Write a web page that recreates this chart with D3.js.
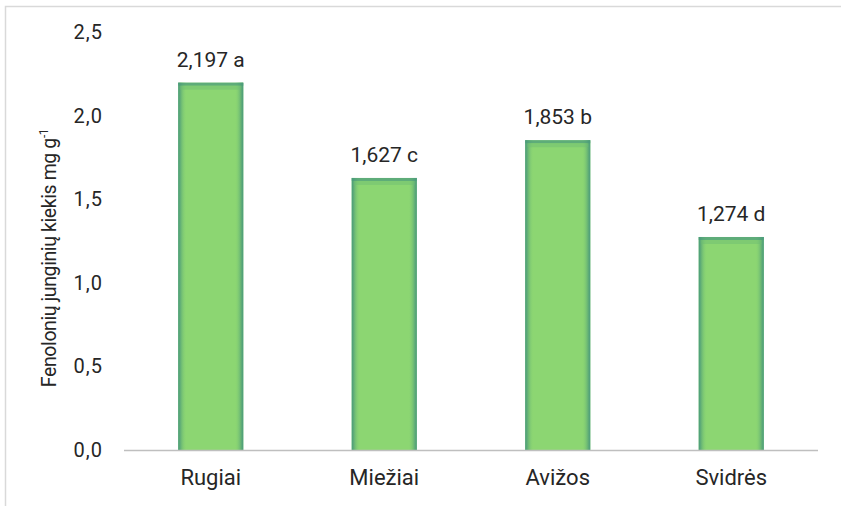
<!DOCTYPE html>
<html><head><meta charset="utf-8">
<script src="https://cdn.jsdelivr.net/npm/d3@7"></script>
<style>body{margin:0;background:#fff}svg{display:block}text{font-family:Roboto,"Open Sans",sans-serif;fill:#262626}</style>
</head><body>
<svg id="c" width="841" height="506"></svg>
<script>
const categories = ["Rugiai","Miežiai","Avižos","Svidrės"];
const values = [2.197,1.627,1.853,1.274];
const letters = ["a","c","b","d"];
const yTicks = [0,0.5,1.0,1.5,2.0,2.5];
const fmt = v => d3.format(".1f")(v).replace(".", ",");
const fmt3 = v => d3.format(".3f")(v).replace(".", ",");

const svg = d3.select("#c");
const defs = svg.append("defs");
const gh = defs.append("linearGradient").attr("id","gh").attr("x1","0").attr("x2","1").attr("y1","0").attr("y2","0");
[[0,"#4a9a7c",1],[0.03,"#5aa877",0.9],[0.13,"#8cd672",0],[0.87,"#8cd672",0],[0.97,"#5aa877",0.9],[1,"#4a9a7c",1]]
  .forEach(([o,c,a])=>gh.append("stop").attr("offset",o).attr("stop-color",c).attr("stop-opacity",a));

// border
svg.append("path").attr("d","M5.5,506 V6.5 H841").attr("fill","none").attr("stroke","#d9d9d9").attr("stroke-width",1.5);

const x = d3.scaleBand().domain(categories).range([124,818]).paddingInner(0.625).paddingOuter(0.3125);
const y = d3.scaleLinear().domain([0,2.5]).range([450,32]);

// y tick labels
const yAxis = d3.axisLeft(y).tickValues(yTicks).tickFormat(fmt).tickSize(0).tickPadding(0);
const ga = svg.append("g").attr("transform","translate(103,0)").call(yAxis);
ga.select(".domain").remove();
ga.selectAll("text").attr("font-size",20).attr("letter-spacing",1).attr("fill","#262626").attr("font-family","Roboto");

// bars
const bars = svg.append("g").selectAll("g").data(categories).join("g");
bars.append("rect").attr("x",d=>x(d)).attr("y",(d,i)=>y(values[i])).attr("width",x.bandwidth())
  .attr("height",(d,i)=>y(0)-y(values[i])).attr("fill","#8cd672");
bars.append("rect").attr("x",d=>x(d)).attr("y",(d,i)=>y(values[i])).attr("width",x.bandwidth())
  .attr("height",(d,i)=>y(0)-y(values[i])).attr("fill","url(#gh)");
bars.append("rect").attr("x",d=>x(d)).attr("y",(d,i)=>y(values[i])).attr("width",x.bandwidth())
  .attr("height",3).attr("fill","#4a9a7c").attr("opacity",0.7);
bars.append("rect").attr("x",d=>x(d)+2).attr("y",(d,i)=>y(values[i])+3).attr("width",x.bandwidth()-4)
  .attr("height",4).attr("fill","#6cbc74").attr("opacity",0.45);

// x axis
const xAxis = d3.axisBottom(x).tickSize(0).tickPadding(0);
const gx = svg.append("g").attr("transform","translate(0,450)").call(xAxis);
gx.select(".domain").attr("stroke","#bfbfbf").attr("stroke-width",1.5).attr("d","M124,0.5H818");
gx.selectAll("text").attr("font-size",22).attr("dy",null).attr("y",35).attr("fill","#262626").attr("font-family","Roboto");

// data labels
svg.append("g").selectAll("text").data(categories).join("text")
  .attr("x",d=>x(d)+x.bandwidth()/2).attr("y",(d,i)=>y(values[i])-16)
  .attr("text-anchor","middle").attr("font-size",21)
  .text((d,i)=>fmt3(values[i])+" "+letters[i]);

// y title
const t = svg.append("text").attr("transform","translate(56,258) rotate(-90)").attr("text-anchor","middle").attr("font-size",19.5).attr("letter-spacing",-0.4);
t.append("tspan").text("Fenolonių junginių kiekis mg g");
t.append("tspan").attr("font-size",12).attr("dy",-8).text("-1");
</script>
</body></html>
